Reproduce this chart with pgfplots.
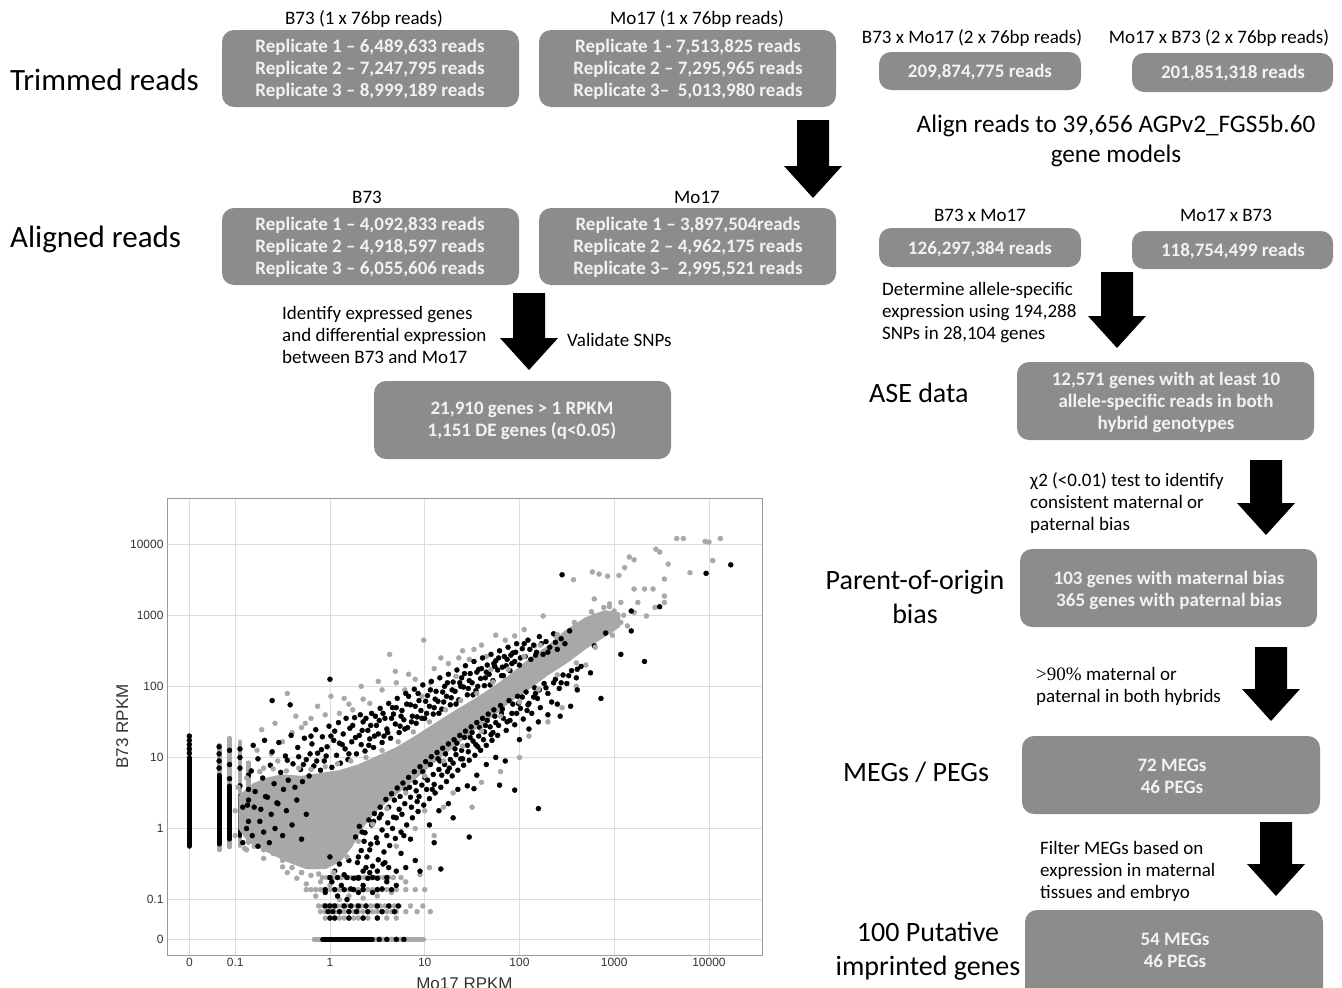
\documentclass[border=0pt]{standalone}
\usepackage{pgfplots}
\pgfplotsset{compat=1.18}
\usepackage{fontspec}
\setmainfont{Carlito}
\newfontfamily\sansaxis{Liberation Sans}
\newfontfamily\serifx{Liberation Serif}
\definecolor{boxgray}{HTML}{8C8C8C}
\definecolor{boxtext}{HTML}{F2F2F2}
\definecolor{ptgray}{HTML}{A8A8A8}
\definecolor{gridgray}{HTML}{DCDCDC}
\definecolor{framegray}{HTML}{9A9A9A}
\newcommand{\darrow}[3]{\fill[black] (#1-16,#2) -- (#1+16,#2) -- (#1+16,#3-32) -- (#1+29,#3-32) -- (#1,#3) -- (#1-29,#3-32) -- (#1-16,#3-32) -- cycle;}
\begin{document}
\begin{tikzpicture}[x=1pt,y=-1pt,
  box/.style={fill=boxgray, rounded corners=12pt, draw=none},
  bt/.style={text=boxtext, font=\fontsize{19}{22}\selectfont\bfseries, align=center, inner sep=0pt},
  lab/.style={font=\fontsize{19}{22}\selectfont, inner sep=0pt, align=left},
  big/.style={font=\fontsize{31}{36}\selectfont, inner sep=0pt},
  mid/.style={font=\fontsize{28}{34}\selectfont, inner sep=0pt, align=center}]
\path[use as bounding box] (0,0) rectangle (1342,988);

% ---------- row 1: trimmed reads ----------
\node[big, anchor=west] at (10,80) {Trimmed reads};
\node[lab] at (364,19) {B73 (1 x 76bp reads)};
\node[lab] at (697,19) {Mo17 (1 x 76bp reads)};
\fill[box] (222,30) rectangle (519,107);
\fill[box] (539,30) rectangle (836,107);
\node[bt] at (370,69) {Replicate 1 -- 6,489,633 reads\\Replicate 2 -- 7,247,795 reads\\Replicate 3 -- 8,999,189 reads};
\node[bt] at (688,69) {Replicate 1 - 7,513,825 reads\\Replicate 2 -- 7,295,965 reads\\Replicate 3--\ \ 5,013,980 reads};
\node[lab] at (972,38) {B73 x Mo17 (2 x 76bp reads)};
\node[lab] at (1219,38) {Mo17 x B73 (2 x 76bp reads)};
\fill[box] (879,52) rectangle (1081,90);
\fill[box] (1132,53) rectangle (1333,92);
\node[bt] at (980,72) {209,874,775 reads};
\node[bt] at (1233,73) {201,851,318 reads};
\node[font=\fontsize{25.2}{30}\selectfont, align=center, inner sep=0pt] at (1116,141) {Align reads to 39,656 AGPv2\_FGS5b.60\\gene models};
\darrow{813}{120}{198}

% ---------- row 2: aligned reads ----------
\node[big, anchor=west] at (10,239) {Aligned reads};
\node[lab] at (367,197) {B73};
\node[lab] at (697,197) {Mo17};
\fill[box] (222,208) rectangle (519,285);
\fill[box] (539,208) rectangle (836,285);
\node[bt] at (370,247) {Replicate 1 -- 4,092,833 reads\\Replicate 2 -- 4,918,597 reads\\Replicate 3 -- 6,055,606 reads};
\node[bt] at (688,247) {Replicate 1 -- 3,897,504reads\\Replicate 2 -- 4,962,175 reads\\Replicate 3--\ \ 2,995,521 reads};
\node[lab] at (980,215) {B73 x Mo17};
\node[lab] at (1226,215) {Mo17 x B73};
\fill[box] (879,228) rectangle (1081,267);
\fill[box] (1132,231) rectangle (1333,269);
\node[bt] at (980,249) {126,297,384 reads};
\node[bt] at (1233,251) {118,754,499 reads};

% ---------- left branch ----------
\darrow{529}{293}{370}
\node[lab, anchor=west] at (282,335) {Identify expressed genes\\and differential expression\\between B73 and Mo17};
\node[lab, anchor=west] at (567,340) {Validate SNPs};
\fill[box] (374,381) rectangle (671,459);
\node[bt] at (522,421) {21,910 genes > 1 RPKM\\1,151 DE genes (q<0.05)};

% ---------- right branch ----------
\darrow{1117}{272}{348}
\node[lab, anchor=west] at (882,313) {Determine allele-specific\\expression using 194,288\\SNPs in 28,104 genes};
\node[mid, anchor=west] at (869,393) {ASE data};
\fill[box] (1017,362) rectangle (1314,440);
\node[bt] at (1166,402) {12,571 genes with at least 10\\allele-specific reads in both\\hybrid genotypes};
\darrow{1266}{460}{535}
\node[lab, anchor=west] at (1030,503) {χ2 (<0.01) test to identify\\consistent maternal or\\paternal bias};
\node[mid] at (915,597) {Parent-of-origin\\bias};
\fill[box] (1020,549) rectangle (1317,627);
\node[bt] at (1169,590) {103 genes with maternal bias\\365 genes with paternal bias};
\darrow{1271}{647}{721}
\node[lab, anchor=west] at (1036,686) {{\serifx >90\%} maternal or\\paternal in both hybrids};
\node[mid, anchor=west] at (843,772) {MEGs / PEGs};
\fill[box] (1022,736) rectangle (1320,814);
\node[bt] at (1172,776) {72 MEGs\\46 PEGs};
\darrow{1276}{822}{896}
\node[lab, anchor=west] at (1040,871) {Filter MEGs based on\\expression in maternal\\tissues and embryo};
\node[mid] at (928,951) {100 Putative\\imprinted genes};
\fill[box] (1025,910) rectangle (1323,1000);
\node[bt] at (1175,950) {54 MEGs\\46 PEGs};

% ---------- scatter plot ----------
\begin{axis}[at={(167pt,-955pt)}, anchor=south west, width=595pt, height=457pt, scale only axis,
  xmin=-1.72, xmax=4.56, ymin=-1.78, ymax=4.65,
  xtick={-1.484,-1,0,1,2,3,4}, xticklabels={0,0.1,1,10,100,1000,10000},
  ytick={-1.56,-1,0,1,2,3,4}, yticklabels={0,0.1,1,10,100,1000,10000},
  grid=major, major grid style={gridgray, line width=0.8pt},
  axis line style={framegray, line width=1pt},
  tick style={draw=none},
  ticklabel style={font=\sansaxis\fontsize{12}{14}\selectfont, text=black!80},
  xlabel={Mo17 RPKM}, ylabel={B73 RPKM},
  label style={font=\sansaxis\fontsize{17}{20}\selectfont, text=black!80},
  xlabel style={at={(axis description cs:0.5,-0.062)}, anchor=center},
  ylabel style={at={(axis description cs:-0.075,0.5)}, anchor=center},
  every axis plot/.append style={mark size=2.5pt},
  clip=true]
% columns at zero / low x
\addplot[ptgray, line width=4.8pt, line cap=round] coordinates {(-1.17,-0.30) (-1.17,1.17)};
\addplot[ptgray, line width=4.8pt, line cap=round] coordinates {(-1.06,-0.26) (-1.06,1.27)};
\addplot[ptgray, line width=4.8pt, line cap=round] coordinates {(-0.95,-0.24) (-0.95,1.22)};
\addplot[ptgray, line width=4.8pt, line cap=round] coordinates {(-0.86,-0.20) (-0.86,0.92)};
\addplot[black, line width=5pt, line cap=round] coordinates {(-1.484,-0.25) (-1.484,1.0)};
\addplot[black, line width=4.8pt, line cap=round] coordinates {(-1.17,-0.22) (-1.17,0.75)};
\addplot[black, line width=4.8pt, line cap=round] coordinates {(-1.06,-0.15) (-1.06,0.60)};
\addplot[black, line width=4.8pt, line cap=round] coordinates {(-0.95,-0.10) (-0.95,0.45)};
% zero row
\addplot[ptgray, line width=4.5pt, line cap=round] coordinates {(-0.17,-1.56) (0.99,-1.56)};
\addplot[black, line width=4.5pt, line cap=round] coordinates {(-0.08,-1.56) (0.45,-1.56)};
% gray rows of low counts
\addplot[only marks, mark=*, ptgray] coordinates {
(-0.12,-1.09) (-0.07,-1.09) (-0.02,-1.09) (0.03,-1.09) (0.08,-1.09) (0.13,-1.09) (0.18,-1.09) (0.23,-1.09) (0.28,-1.09) (0.33,-1.09) (0.38,-1.09) (0.43,-1.09) (0.48,-1.09) (0.53,-1.09) (0.58,-1.09) (0.63,-1.09) (0.68,-1.09) (0.73,-1.09) (0.85,-1.09) (0.98,-1.09)
(-0.10,-1.17) (-0.05,-1.17) (0.00,-1.17) (0.05,-1.17) (0.10,-1.17) (0.15,-1.17) (0.20,-1.17) (0.25,-1.17) (0.30,-1.17) (0.35,-1.17) (0.40,-1.17) (0.45,-1.17) (0.50,-1.17) (0.55,-1.17) (0.60,-1.17) (0.65,-1.17) (0.70,-1.17) (0.80,-1.17) (0.92,-1.17) (1.06,-1.17)
(-0.05,-1.26) (0.00,-1.26) (0.05,-1.26) (0.10,-1.26) (0.15,-1.26) (0.20,-1.26) (0.25,-1.26) (0.30,-1.26) (0.35,-1.26) (0.40,-1.26) (0.50,-1.26) (0.60,-1.26) (0.70,-1.26)
(-0.08,-0.69) (-0.03,-0.69) (0.02,-0.69) (0.07,-0.69) (0.12,-0.69) (0.17,-0.69) (0.22,-0.69) (0.27,-0.69) (0.32,-0.69) (0.37,-0.69) (0.42,-0.69) (0.47,-0.69) (0.52,-0.69) (0.57,-0.69) (0.62,-0.69) (0.67,-0.69) (0.75,-0.69)
(-0.25,-0.86) (-0.20,-0.86) (-0.15,-0.86) (-0.10,-0.86) (-0.05,-0.86) (0.00,-0.86) (0.05,-0.86) (0.10,-0.86) (0.15,-0.86) (0.20,-0.86) (0.25,-0.86) (0.30,-0.86) (0.35,-0.86) (0.40,-0.86) (0.45,-0.86) (0.50,-0.86) (0.55,-0.86) (0.60,-0.86) (0.70,-0.86) (0.80,-0.86) (0.90,-0.86) (1.00,-0.86)
(0.55,-1.56) (0.65,-1.56) (0.75,-1.56)
};
% gray outer scatter
\addplot[only marks, mark=*, ptgray] coordinates {
(0.99,2.65) (0.63,2.45) (1.75,2.72) (1.95,2.71) (1.52,2.52) (1.17,2.40) (1.36,2.40) (0.69,2.21) (0.83,2.17) (0.51,2.07) (1.06,2.05) (1.47,2.38) (1.65,2.42) (2.25,2.99) (0.01,1.86) (0.15,1.83) (-0.26,1.48) (-0.45,1.90) (-0.58,1.48) (-0.72,1.39) (-0.77,1.10) (-0.86,0.92) (0.33,2.00) (0.42,1.76) (0.24,1.67) (-0.13,1.72) (-0.36,1.58) (0.79,1.95) (0.97,1.86) (1.33,2.14) (1.70,2.24) (1.93,2.33) (2.16,2.57) (2.38,2.71)
(-0.62,1.05) (-0.50,1.22) (-0.40,1.35) (-0.30,1.42) (-0.20,1.55) (-0.05,1.60) (0.10,1.62) (0.20,1.75) (0.35,1.82) (0.55,1.95) (0.70,2.05) (0.90,2.10) (1.10,2.25) (1.25,2.32) (1.40,2.50) (1.60,2.58) (1.85,2.65) (2.05,2.80) (-0.80,0.60) (-0.70,0.85) (-0.55,0.95)
(3.66,4.08) (3.73,4.08) (3.96,4.04) (4.00,4.03) (4.12,4.08) (4.04,3.77) (3.80,3.60) (3.44,3.93) (3.48,3.89) (3.57,3.72) (3.16,3.82) (3.21,3.78) (3.05,3.56) (3.11,3.67) (2.77,3.61) (2.84,3.58) (2.93,3.55) (2.57,3.50) (3.53,3.51) (3.21,3.37) (3.32,3.37) (3.41,3.37) (3.53,3.27) (3.43,3.11) (3.25,3.18) (3.07,3.18) (2.95,3.16) (2.79,3.23) (2.89,3.11) (3.00,3.06) (3.14,2.85) (3.53,3.18) (3.34,2.99) (3.21,3.04) (2.79,2.99) (3.07,2.90) (2.70,2.80) (2.90,2.95) (3.10,3.00) (2.65,2.70) (2.85,2.85)
(-0.60,-0.35) (-0.50,-0.45) (-0.40,-0.55) (-0.30,-0.62) (-0.20,-0.66) (-0.10,-0.75) (0.00,-0.80) (-0.25,-0.78) (-0.15,-0.95) (0.10,-1.00) (-0.35,-0.70) (-0.45,-0.62) (-0.70,-0.30) (-0.80,-0.25) (-0.90,-0.28) (0.20,-0.95) (0.35,-0.98) (0.50,-0.95) (0.65,-0.90) (0.80,-0.75) (0.95,-0.65) (1.05,-0.55)
(1.50,0.30) (1.80,0.80) (2.30,1.50) (2.00,1.00) (1.20,0.30) (0.90,0.00) (2.60,2.00) (2.70,2.30) (1.00,0.25) (1.30,0.50) (1.60,0.65) (2.10,1.30) (2.45,1.70) (0.70,-0.25) (1.10,-0.10)
};
% black points: upper band
\addplot[only marks, mark=*, black] coordinates {
(-0.87,0.33) (-0.83,0.81) (-0.81,1.17) (-0.79,0.52) (-0.76,0.98) (-0.73,0.27) (-0.71,0.71) (-0.69,1.24) (-0.66,0.44) (-0.63,0.89) (-0.61,1.08) (-0.59,0.63) (-0.56,0.36) (-0.54,1.21) (-0.52,0.79) (-0.49,0.55) (-0.47,1.02) (-0.44,0.68) (-0.41,1.31) (-0.39,0.91) (-0.37,0.58) (-0.34,1.14) (-0.31,0.83) (-0.29,0.66) (-0.27,1.27) (-0.25,0.97) (-0.22,0.74) (-0.19,1.19) (-0.17,0.88) (-0.15,1.39) (-0.13,1.06) (-0.10,0.82) (-0.08,1.29) (-0.06,0.95) (-0.03,1.15) (-0.01,1.44)
(0.02,0.86) (0.04,1.24) (0.07,1.03) (0.09,1.49) (0.11,0.92) (0.14,1.33) (0.16,1.12) (0.19,0.97) (0.21,1.41) (0.23,1.22) (0.26,1.56) (0.28,1.05) (0.31,1.31) (0.33,1.18) (0.35,1.50) (0.37,1.09) (0.40,1.38) (0.42,1.26) (0.44,1.62) (0.46,1.14) (0.49,1.45) (0.51,1.33) (0.53,1.69) (0.55,1.21) (0.58,1.55) (0.60,1.40) (0.62,1.76) (0.64,1.27) (0.67,1.61) (0.69,1.47) (0.71,1.83) (0.73,1.35) (0.76,1.66) (0.78,1.53) (0.80,1.90) (0.82,1.42) (0.85,1.74) (0.87,1.58) (0.89,1.96) (0.91,1.48) (0.94,1.80) (0.96,1.66) (0.98,2.02)
(1.00,1.55) (1.03,1.87) (1.05,1.72) (1.07,2.07) (1.09,1.61) (1.12,1.93) (1.14,1.79) (1.16,2.12) (1.18,1.68) (1.21,2.00) (1.23,1.86) (1.25,2.17) (1.27,1.74) (1.30,2.06) (1.32,1.93) (1.34,2.23) (1.36,1.81) (1.39,2.12) (1.41,1.99) (1.43,2.29) (1.45,1.88) (1.48,2.18) (1.50,2.05) (1.52,2.35) (1.54,1.94) (1.57,2.24) (1.59,2.11) (1.61,2.40) (1.63,2.01) (1.66,2.30) (1.68,2.17) (1.70,2.45) (1.72,2.08) (1.75,2.36) (1.77,2.23) (1.79,2.50) (1.81,2.15) (1.84,2.42) (1.86,2.29) (1.88,2.55) (1.90,2.22) (1.93,2.47) (1.95,2.35) (1.97,2.60)
(2.00,2.30) (2.03,2.53) (2.06,2.42) (2.09,2.65) (2.12,2.38) (2.15,2.58) (2.18,2.48) (2.21,2.70) (2.25,2.45) (2.28,2.63) (2.32,2.55) (2.36,2.74) (2.40,2.52) (2.44,2.67) (2.48,2.60) (2.53,2.78)
(0.05,1.37) (0.13,1.18) (0.24,1.45) (0.32,1.60) (0.41,1.17) (0.48,1.58) (0.57,1.30) (0.66,1.70) (0.74,1.44) (0.83,1.86) (0.92,1.57) (1.01,1.79) (1.10,1.70) (1.19,1.92) (1.28,1.84) (1.37,2.05) (1.46,1.97) (1.55,2.20) (1.64,2.12) (1.73,2.32) (1.82,2.27) (1.91,2.44) (-0.45,0.96) (-0.33,1.01) (-0.21,1.05) (-0.09,1.11)
(-0.28,0.90) (-0.20,1.30) (-0.14,0.95) (-0.04,1.02) (0.01,1.30) (0.10,1.20) (0.17,1.55) (0.20,1.05) (0.27,1.28) (0.34,1.38) (0.38,1.55) (0.43,1.45) (0.47,1.30) (0.52,1.52) (0.56,1.62) (0.61,1.35) (0.65,1.55) (0.70,1.70) (0.75,1.58) (0.79,1.40) (0.81,1.75) (0.86,1.50) (0.90,1.72) (0.93,1.90) (0.97,1.55) (1.02,1.62) (1.06,1.95) (1.11,1.82) (1.15,1.62) (1.20,1.78) (1.24,2.05) (1.29,1.95) (1.33,1.75) (1.38,2.00) (1.42,2.18) (1.47,2.08) (1.51,1.88) (1.56,2.00) (1.60,2.25) (1.65,2.20) (1.69,2.02) (1.74,2.28) (1.78,2.40) (1.83,2.15) (1.87,2.38) (1.92,2.32) (1.96,2.48) (2.01,2.40) (2.05,2.60) (2.11,2.52) (2.17,2.44) (2.23,2.60) (2.30,2.48) (2.38,2.62)
};
% black points: lower band
\addplot[only marks, mark=*, black] coordinates {
(0.27,-0.12) (0.29,-0.48) (0.31,0.03) (0.33,-0.31) (0.35,-0.60) (0.37,-0.06) (0.39,-0.40) (0.41,0.12) (0.43,-0.22) (0.45,-0.53) (0.47,0.21) (0.49,-0.13) (0.51,-0.44) (0.53,0.30) (0.55,-0.02) (0.57,-0.33) (0.59,0.41) (0.61,0.08) (0.63,-0.24) (0.65,0.49) (0.67,0.16) (0.69,-0.14) (0.71,0.57) (0.73,0.27) (0.75,-0.05) (0.77,0.64) (0.79,0.35) (0.81,0.05) (0.83,0.72) (0.85,0.44) (0.87,0.15) (0.89,0.80) (0.91,0.53) (0.93,0.24) (0.95,0.87) (0.97,0.61) (0.99,0.33)
(1.01,0.94) (1.03,0.68) (1.05,0.42) (1.07,1.01) (1.09,0.76) (1.11,0.50) (1.13,1.07) (1.15,0.83) (1.17,0.58) (1.19,1.13) (1.21,0.90) (1.23,0.66) (1.25,1.19) (1.27,0.97) (1.29,0.74) (1.31,1.25) (1.33,1.04) (1.35,0.82) (1.37,1.31) (1.39,1.10) (1.41,0.89) (1.43,1.37) (1.45,1.17) (1.47,0.96) (1.49,1.43) (1.51,1.23) (1.53,1.03) (1.55,1.49) (1.57,1.30) (1.59,1.10) (1.61,1.55) (1.63,1.36) (1.65,1.17) (1.67,1.61) (1.69,1.43) (1.71,1.24) (1.73,1.67) (1.75,1.49) (1.77,1.31) (1.80,1.73) (1.83,1.55) (1.86,1.38) (1.89,1.80) (1.92,1.62) (1.95,1.46) (1.98,1.86)
(2.01,1.69) (2.04,1.54) (2.07,1.92) (2.10,1.76) (2.13,1.62) (2.16,1.98) (2.19,1.83) (2.22,1.70) (2.26,2.04) (2.30,1.90) (2.34,1.78) (2.38,2.10) (2.42,1.97) (2.46,2.16) (2.50,2.04) (2.55,2.22) (2.60,2.12) (2.65,2.28)
(0.36,-0.18) (0.44,0.05) (0.52,0.15) (0.60,-0.10) (0.68,0.40) (0.76,0.20) (0.84,0.58) (0.92,0.38) (1.00,0.72) (1.08,0.55) (1.16,0.95) (1.24,0.80) (1.32,1.12) (1.40,0.98) (1.48,1.28) (1.56,1.15) (1.64,1.45) (1.72,1.35) (1.81,1.62) (1.90,1.52) (1.99,1.76) (2.08,1.66) (2.17,1.90) (0.30,-0.70) (0.42,-0.62) (0.58,-0.48)
(0.30,-0.40) (0.34,-0.05) (0.38,-0.55) (0.42,-0.30) (0.46,0.10) (0.50,-0.20) (0.54,0.20) (0.56,-0.50) (0.62,0.30) (0.66,0.00) (0.70,0.15) (0.74,0.45) (0.78,-0.10) (0.80,0.55) (0.86,0.30) (0.90,0.65) (0.94,0.45) (0.98,0.80) (1.02,0.55) (1.06,0.90) (1.10,0.62) (1.14,0.98) (1.18,0.75) (1.22,1.05) (1.26,0.85) (1.30,0.92) (1.34,1.20) (1.38,0.98) (1.42,1.28) (1.46,1.08) (1.50,1.35) (1.54,1.18) (1.58,1.42) (1.62,1.25) (1.66,1.52) (1.70,1.32) (1.74,1.58) (1.78,1.45) (1.82,1.68) (1.87,1.50) (1.93,1.75) (1.97,1.62) (2.03,1.85) (2.09,1.74) (2.15,1.85) (2.21,1.95) (2.28,1.98) (2.36,2.05) (2.44,2.05) (2.52,2.15)
};
% black points: scattered, columns, rows, outliers
\addplot[only marks, mark=*, black] coordinates {
(-1.484,1.06) (-1.484,1.12) (-1.484,1.18) (-1.484,1.24) (-1.484,1.30)
(-1.17,0.85) (-1.17,0.95) (-1.17,1.05) (-1.17,1.15) (-1.06,0.70) (-1.06,0.90) (-1.06,1.10) (-0.95,0.60) (-0.95,0.85) (-0.95,1.00) (-0.95,1.12) (-0.86,0.10) (-0.86,0.40) (-0.86,0.75)
(0.62,-0.55) (0.75,-0.35) (0.85,-0.15) (0.95,-0.60) (1.05,0.05) (1.15,0.25) (1.25,0.35) (1.35,0.55) (1.45,0.60) (1.55,0.75) (1.65,0.90) (1.75,1.00) (1.85,0.95) (2.00,1.25) (2.10,1.40) (2.20,1.50) (2.30,1.60) (2.40,1.75) (0.50,-0.70) (0.70,-0.80) (1.10,-0.20) (1.30,0.15) (1.47,-0.12) (1.17,-0.57) (2.20,0.28) (1.95,0.54) (1.79,0.61) (1.52,0.56)
(-0.92,-0.20) (-0.92,0.30) (-0.88,0.00) (-0.86,0.55) (-0.82,-0.10) (-0.80,0.30) (-0.76,-0.25) (-0.74,0.10) (-0.70,-0.05) (-0.68,0.45) (-0.64,-0.20) (-0.62,0.20) (-0.58,0.00) (-0.55,0.35) (-0.50,-0.10) (-0.46,0.25) (-0.40,0.05) (-0.35,0.40) (-0.30,-0.15) (-0.25,0.20)
(0.00,-0.40) (0.05,-0.60) (0.02,-0.75) (0.10,-0.50) (0.12,-0.80) (0.15,-0.65) (0.20,-0.45) (0.22,-0.85) (0.25,-0.70) (-0.05,-0.90) (0.08,-0.95) (0.18,-1.00) (0.30,-0.90) (0.35,-0.80) (0.40,-0.70) (0.45,-0.90) (0.50,-0.60) (0.55,-0.85) (0.60,-0.75) (0.70,-0.60) (0.80,-0.55) (0.90,-0.45)
(-0.05,-1.09) (0.00,-1.09) (0.05,-1.09) (0.15,-1.09) (0.22,-1.09) (0.30,-1.09) (0.38,-1.09) (0.50,-1.09) (0.62,-1.09) (0.72,-1.09) (-0.02,-1.17) (0.03,-1.17) (0.10,-1.17) (0.20,-1.17) (0.28,-1.17) (0.40,-1.17) (0.55,-1.17) (0.68,-1.17) (0.00,-1.26) (0.05,-1.26) (0.20,-1.26) (0.35,-1.26) (0.50,-1.26)
(0.00,-0.69) (0.08,-0.69) (0.18,-0.69) (0.30,-0.69) (0.45,-0.69) (0.60,-0.69) (-0.05,-0.86) (0.05,-0.86) (0.15,-0.86) (0.25,-0.86) (0.35,-0.86) (0.50,-0.86) (0.65,-0.86) (0.52,-1.56) (0.60,-1.56) (0.70,-1.56) (0.78,-1.56)
(2.45,3.57) (3.97,3.59) (4.23,3.71) (3.48,3.12) (3.18,3.06) (3.18,2.78) (3.07,2.45) (3.32,2.35) (2.86,1.83) (2.91,2.75) (2.79,2.57) (2.61,2.24) (2.75,2.19) (2.61,1.95) (2.54,1.72) (2.43,1.58) (0.00,2.10) (-0.61,1.80) (-0.42,1.74)
};
% dense gray core
\addplot[fill=ptgray, draw=ptgray, line width=3pt, line join=round] coordinates {
(-0.95,0.45) (-0.80,0.62) (-0.65,0.70) (-0.50,0.74) (-0.30,0.72) (-0.10,0.76) (0.10,0.80) (0.30,0.88) (0.50,1.00) (0.70,1.12) (0.90,1.28) (1.10,1.45) (1.30,1.62) (1.50,1.78) (1.70,1.95) (1.90,2.14) (2.10,2.36) (2.30,2.55) (2.50,2.78) (2.70,2.95) (2.90,3.05) (3.05,3.02)
(3.05,2.85) (2.90,2.72) (2.70,2.55) (2.50,2.35) (2.30,2.18) (2.10,1.98) (1.90,1.80) (1.70,1.58) (1.50,1.38) (1.30,1.16) (1.10,0.95) (0.90,0.72) (0.70,0.50) (0.50,0.28) (0.35,0.05) (0.22,-0.25) (0.10,-0.45) (-0.05,-0.55) (-0.25,-0.55) (-0.45,-0.45) (-0.65,-0.32) (-0.85,-0.18) (-0.95,0.00)} -- cycle;
% gray points fraying the edges of the core
\addplot[only marks, mark=*, ptgray] coordinates {
(-0.97,0.58) (-0.88,0.71) (-0.74,0.80) (-0.60,0.84) (-0.46,0.81) (-0.33,0.85) (-0.20,0.83) (-0.05,0.87) (0.08,0.91) (0.22,0.95) (0.38,1.00) (0.55,1.10) (0.72,1.22) (0.88,1.36) (1.05,1.50) (1.22,1.67) (1.38,1.80) (1.55,1.90) (1.72,2.06) (1.88,2.24) (2.05,2.42) (2.22,2.58) (2.40,2.73) (2.58,2.90) (2.76,3.05) (2.95,3.12)
(2.98,2.72) (2.80,2.55) (2.60,2.33) (2.40,2.16) (2.20,1.96) (2.00,1.78) (1.80,1.58) (1.60,1.37) (1.40,1.16) (1.20,0.95) (1.00,0.74) (0.80,0.50) (0.60,0.28) (0.45,0.06) (0.30,-0.18) (0.18,-0.40) (0.04,-0.62) (-0.12,-0.64) (-0.30,-0.62) (-0.50,-0.54) (-0.70,-0.42) (-0.88,-0.30) (-1.00,-0.10) (-1.00,0.25)
};
\end{axis}
\end{tikzpicture}
\end{document}
